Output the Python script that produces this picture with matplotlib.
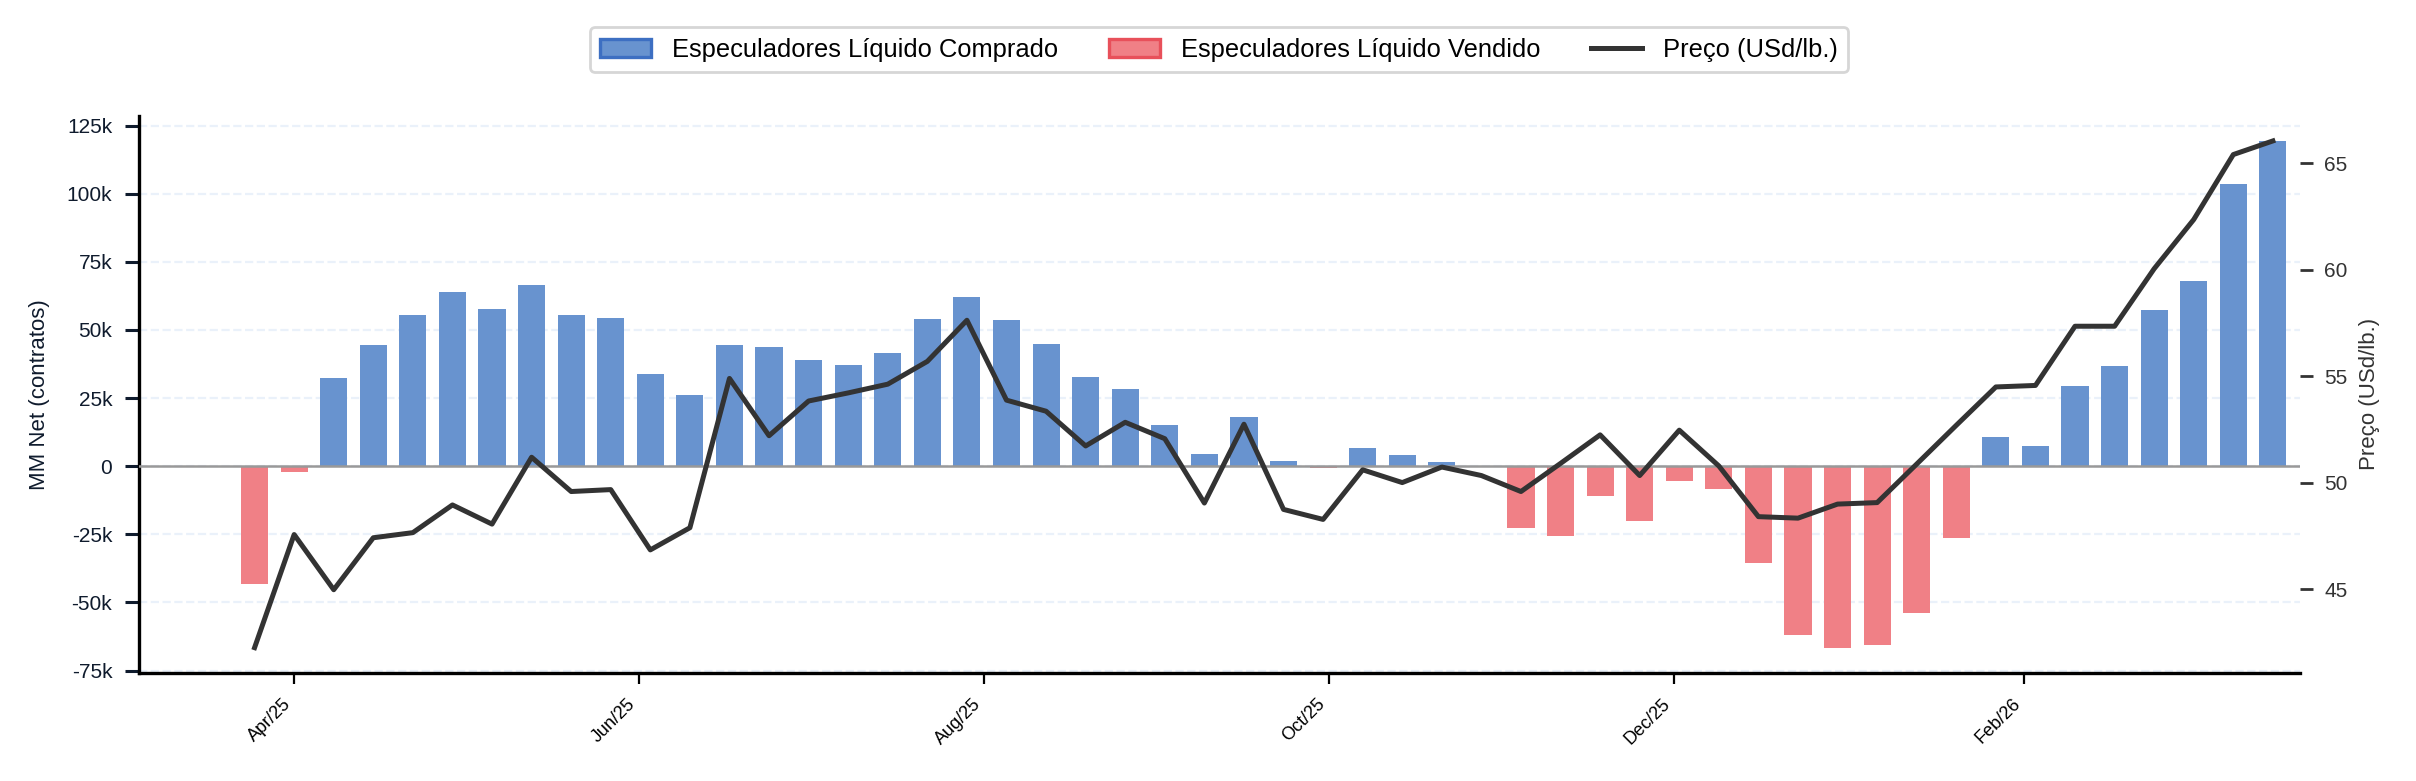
import pandas as pd
import matplotlib
matplotlib.use("Agg")
import matplotlib.pyplot as plt
import matplotlib.dates as mdates
from matplotlib.patches import Patch
from matplotlib.lines import Line2D
from matplotlib.ticker import FuncFormatter

plt.rcParams['font.family'] = ['Liberation Sans', 'DejaVu Sans']

# datas semanais (COT, terças-feiras)
dates = pd.date_range('2025-03-25', periods=52, freq='7D')

# posição líquida dos managed money (mil contratos)
mm_net_k = [
    -43.2, -2.0, 32.3, 44.6, 55.5, 64.0, 57.8, 66.6, 55.5, 54.4,
    33.9, 26.2, 44.6, 43.9, 39.1, 37.1, 41.6, 54.1, 62.1, 53.7,
    44.9, 32.8, 28.4, 15.2, 4.5, 18.1, 2.0, -0.6, 6.7, 4.1,
    1.5, 0.0, -22.6, -25.5, -11.1, -20.0, -5.6, -8.3, -35.4, -61.9,
    -66.6, -65.5, -53.9, -26.4, 10.6, 7.3, 29.4, 36.6, 57.2, 67.9,
    103.5, 119.4,
]

# preço (USd/lb.)
price = [
    42.25, 47.56, 44.97, 47.41, 47.65, 48.95, 48.05, 51.19, 49.58, 49.67,
    46.84, 47.88, 54.89, 52.20, 53.83, 54.21, 54.62, 55.69, 57.62, 53.87,
    53.35, 51.72, 52.83, 52.06, 49.04, 52.74, 48.74, 48.27, 50.60, 50.00,
    50.73, 50.33, 49.58, 50.90, 52.24, 50.33, 52.46, 50.78, 48.40, 48.33,
    48.99, 49.06, 50.87, 52.69, 54.49, 54.56, 57.34, 57.34, 60.04, 62.35,
    65.40, 66.04,
]

BLUE = '#6893cf'
BLUE_EDGE = '#3d6fc2'
RED = '#f08086'
RED_EDGE = '#e8505a'
LINE = '#333333'

mm_net = [v * 1000 for v in mm_net_k]
colors = [BLUE if v >= 0 else RED for v in mm_net]

fig = plt.figure(figsize=(12.08, 3.905), dpi=200)
ax1 = fig.add_axes([0.0574, 0.1383, 0.8946, 0.7137])

ax1.bar(dates, mm_net, width=4.8, color=colors, zorder=2)
ax1.axhline(0, color='#999999', linewidth=0.9, zorder=3)

ax1.set_xlim(dates[0] - pd.Timedelta(days=20.5), dates[-1] + pd.Timedelta(days=4.8))
ax1.set_ylabel('MM Net (contratos)', fontsize=8, color='#0f1b2d', labelpad=6)
ax1.yaxis.set_major_formatter(FuncFormatter(lambda v, p: '0' if v == 0 else f'{v/1000:.0f}k'))
ax1.tick_params(axis='y', labelsize=7.5, colors='#0f1b2d', length=5, width=1.1, pad=4.5)
ax1.grid(axis='y', linestyle='--', color='#dce8f7', linewidth=0.8, alpha=0.6, zorder=0)
ax1.set_axisbelow(True)

ax1.xaxis.set_major_locator(mdates.MonthLocator(bymonth=[2, 4, 6, 8, 10, 12]))
ax1.xaxis.set_major_formatter(mdates.DateFormatter('%b/%y'))
ax1.tick_params(axis='x', labelsize=6.5, length=4, width=0.8, pad=4)
for lbl in ax1.get_xticklabels():
    lbl.set_rotation(45)
    lbl.set_ha('right')

for s in ['top', 'right']:
    ax1.spines[s].set_visible(False)
ax1.spines['left'].set_linewidth(1.2)
ax1.spines['bottom'].set_linewidth(1.2)

ax2 = ax1.twinx()
ax2.plot(dates, price, color=LINE, linewidth=1.8, zorder=4)
ax2.set_ylabel('Preço (USd/lb.)', fontsize=8, color='#333333')
ax2.tick_params(axis='y', labelsize=7.5, colors='#333333', length=4.7, width=1.0, pad=4)
for s in ['top', 'right', 'left', 'bottom']:
    ax2.spines[s].set_visible(False)

handles = [
    Patch(facecolor=BLUE, edgecolor=BLUE_EDGE, linewidth=1.2),
    Patch(facecolor=RED, edgecolor=RED_EDGE, linewidth=1.2),
    Line2D([0], [0], color=LINE, linewidth=1.8),
]
labels = ['Especuladores Líquido Comprado', 'Especuladores Líquido Vendido', 'Preço (USd/lb.)']
leg = fig.legend(handles, labels, loc='center', bbox_to_anchor=(0.5045, 0.9366), ncol=3,
                 fontsize=9.2, frameon=True, fancybox=True, edgecolor='#cccccc',
                 columnspacing=2.0, handlelength=2.0)
leg.get_frame().set_linewidth(1.0)

fig.savefig('out.png', dpi=200)
